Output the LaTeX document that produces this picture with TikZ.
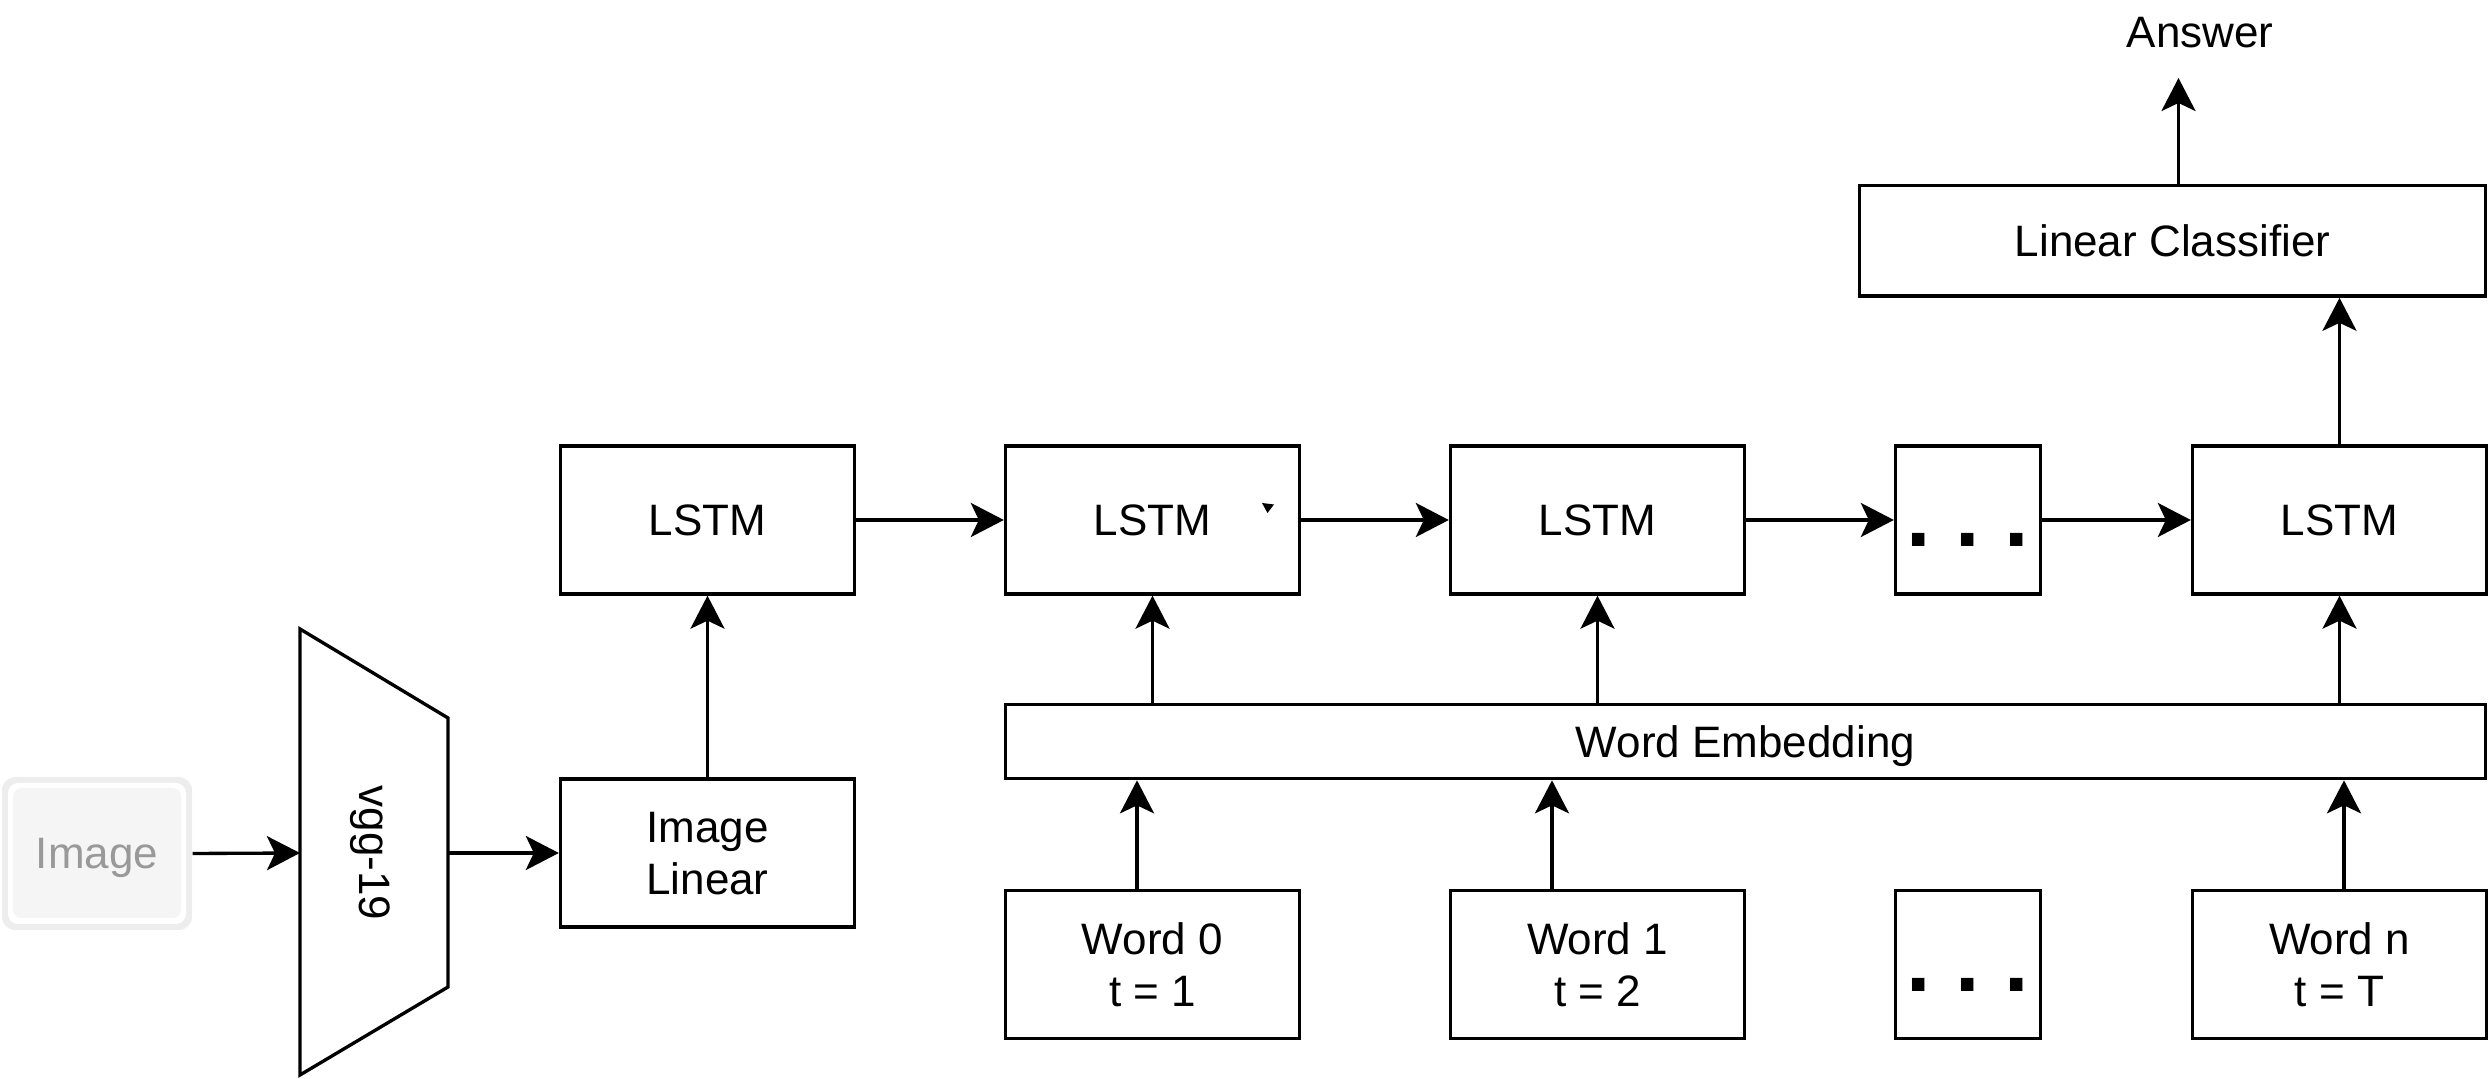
\documentclass[tikz,border=0pt]{standalone}
\usepackage{fontspec}
\setmainfont{Liberation Sans}
\usetikzlibrary{arrows.meta}
\definecolor{ringgray}{HTML}{EDEDED}
\definecolor{imgfill}{HTML}{F5F5F5}
\definecolor{imgtext}{HTML}{999999}
\begin{document}
\begin{tikzpicture}[x=0.3pt,y=-0.3pt,
  font=\fontsize{13.2}{15.6}\selectfont,
  box/.style={draw, line width=1pt, minimum width=88.2pt, minimum height=44.4pt, inner sep=0pt, align=center, text depth=0pt},
  arr/.style={line width=1pt, -{Stealth[length=9.9pt,width=10.2pt,inset=2.4pt]}},
  dotstxt/.style={font=\fontsize{26.4}{30}\selectfont\bfseries, inner sep=0pt, anchor=base},
  plain/.style={inner sep=0pt, text depth=0pt}]
\useasboundingbox (0,0) rectangle (2490,1079);

% Image input box
\node[draw=none, fill=ringgray, rounded corners=4pt, minimum width=57pt, minimum height=45.9pt, inner sep=0pt] (img) at (97,853.5) {};
\fill[white, rounded corners=3pt] (8,783) rectangle (186,924);
\fill[imgfill, rounded corners=2.5pt] (13,788) rectangle (181,918);
\node[plain, text=imgtext] (imgtxt) at (97,853) {Image};

% vgg-19 trapezoid
\draw[line width=1pt, line join=miter] (300,629) -- (448,718) -- (448,987) -- (300,1075) -- cycle;
\coordinate (vggL) at (300,853);
\coordinate (vggR) at (448,853);
\node[plain, rotate=-90] (vgg) at (375,853) {vgg-19};

% Image Linear
\node[box] (il) at (707.5,853) {Image\\Linear};

% LSTM row
\node[box] (l1) at (707.5,520) {LSTM};
\node[box] (l2) at (1152.5,520) {LSTM};
\node[box] (l3) at (1597.5,520) {LSTM};
\node[box, minimum width=43.5pt] (ld) at (1968,520) {};
\node[dotstxt] (ldt) at (1968,547) {.\ .\ .};
\node[box] (l4) at (2339.5,520) {LSTM};
\fill (1262,503) -- (1274,504.5) -- (1267.5,513) -- cycle;

% Word embedding
\node[box, minimum width=444pt, minimum height=22.3pt] (we) at (1745.5,741.5) {Word Embedding};

% Word boxes
\node[box] (w0) at (1152.5,964.5) {Word 0\\t = 1};
\node[box] (w1) at (1597.5,964.5) {Word 1\\t = 2};
\node[box, minimum width=43.5pt] (wd) at (1968,964.5) {};
\node[dotstxt] (wdt) at (1968,992) {.\ .\ .};
\node[box] (wn) at (2339.5,964.5) {Word n\\t = T};

% Linear classifier and answer
\node[box, minimum width=187.8pt, minimum height=33.1pt] (lc) at (2172.5,241) {Linear Classifier};
\node[inner sep=0pt, anchor=base] (ans) at (2200,48) {Answer};

% connectors
\draw[arr] (img.east) -- (vggL);
\draw[arr] (vggR) -- (il.west);
\draw[arr] (il.north) -- (l1.south);
\draw[arr] (l1.east) -- (l2.west);
\draw[arr] (l2.east) -- (l3.west);
\draw[arr] (l3.east) -- (ld.west);
\draw[arr] (ld.east) -- (l4.west);
\draw[arr] (we.north -| l2.south) -- (l2.south);
\draw[arr] (we.north -| l3.south) -- (l3.south);
\draw[arr] (we.north -| l4.south) -- (l4.south);
\coordinate (w0t) at ([xshift=-4.65pt]w0.north);
\coordinate (w1t) at ([xshift=-13.65pt]w1.north);
\coordinate (wnt) at ([xshift=1.35pt]wn.north);
\draw[arr] (w0t) -- (w0t |- we.south);
\draw[arr] (w1t) -- (w1t |- we.south);
\draw[arr] (wnt) -- (wnt |- we.south);
\draw[arr] (l4.north) -- (l4.north |- lc.south);
\coordinate (lct) at ([xshift=1.8pt]lc.north);
\coordinate (anstip) at (2178,78);
\draw[arr] (lct) -- (lct |- anstip);
\end{tikzpicture}
\end{document}
